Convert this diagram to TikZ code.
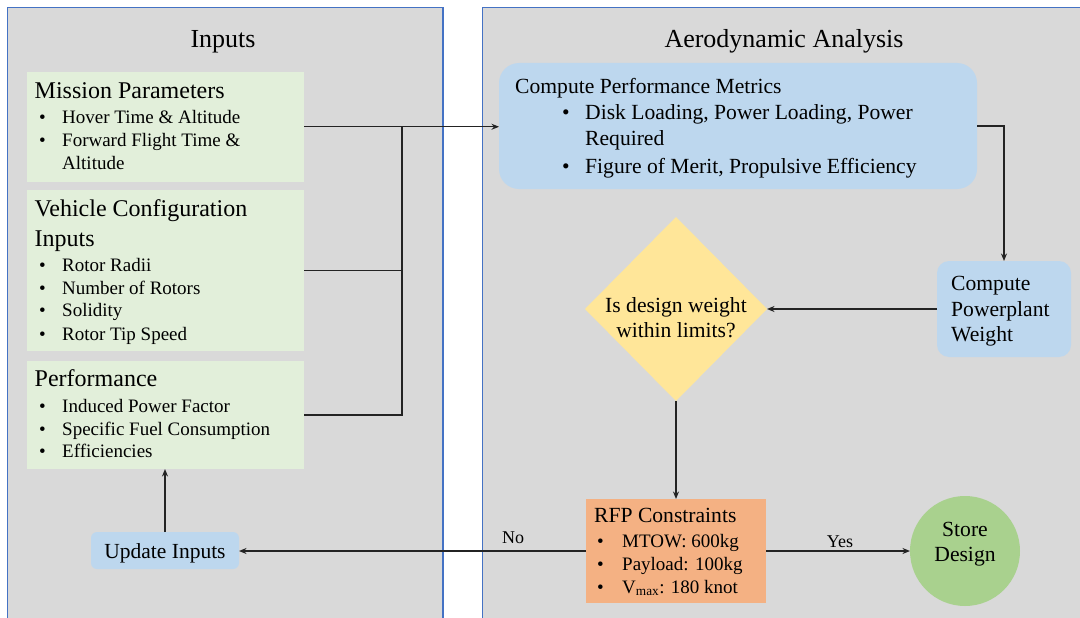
\documentclass[tikz,border=0pt]{standalone}
\usepackage{fontspec}
\setmainfont{Liberation Serif}
\usetikzlibrary{shapes.geometric,arrows.meta}
\definecolor{panelgray}{RGB}{217,217,217}
\definecolor{panelblue}{RGB}{68,114,196}
\definecolor{boxgreen}{RGB}{226,239,218}
\definecolor{boxblue}{RGB}{189,215,238}
\definecolor{boxyellow}{RGB}{255,230,153}
\definecolor{boxorange}{RGB}{244,177,131}
\definecolor{boxgreenc}{RGB}{169,209,142}
\definecolor{linecol}{RGB}{35,35,35}
\begin{document}
\begin{tikzpicture}[x=1pt,y=-1pt,
  panel/.style={fill=panelgray,draw=panelblue,line width=1.2pt},
  gbox/.style={fill=boxgreen,draw=none,inner sep=0pt,outer sep=0pt,anchor=north west},
  bbox/.style={fill=boxblue,draw=none,inner sep=0pt,outer sep=0pt},
  title/.style={anchor=base,inner sep=0pt,font=\fontsize{26}{30}\selectfont},
  hd/.style={anchor=base west,inner sep=0pt,font=\fontsize{24}{28}\selectfont},
  bs/.style={anchor=base west,inner sep=0pt,font=\fontsize{19}{22}\selectfont},
  bm/.style={anchor=base west,inner sep=0pt,font=\fontsize{21.6}{25}\selectfont},
  bc/.style={anchor=base,inner sep=0pt,font=\fontsize{21.6}{25}\selectfont},
  lab/.style={anchor=base,inner sep=0pt,font=\fontsize{18}{21}\selectfont},
  ln/.style={draw=linecol,line width=1.4pt},
  arr/.style={ln,-{Stealth[length=7.5pt,width=6pt]}}
]
\useasboundingbox (0,0) rectangle (1080,618);
\fill[white] (0,0) rectangle (1080,618);
\begin{scope}
\clip (0,0) rectangle (1080,618);
\draw[panel] (7.5,7.5) rectangle (443,625);
\draw[panel] (482.3,7.5) rectangle (1090,625);
\end{scope}

% titles
\node[title] (tin) at (223,48) {Inputs};
\node[title] (taa) at (784,48) {Aerodynamic Analysis};

% input boxes
\node[gbox,minimum width=277.5pt,minimum height=109.5pt] (mp) at (26.5,72) {};
\node[gbox,minimum width=277.5pt,minimum height=161.5pt] (vc) at (26.5,189.5) {};
\node[gbox,minimum width=277.5pt,minimum height=108pt] (pf) at (26.5,361) {};

\node[hd] (mph) at (34.5,99) {Mission Parameters};
\node[bs] (mpb1) at (39,124) {•};
\node[bs] (mpt1) at (62,124) {Hover Time \& Altitude};
\node[bs] (mpb2) at (39,146.7) {•};
\node[bs] (mpt2) at (62,146.7) {Forward Flight Time \&};
\node[bs] (mpt3) at (62,169.3) {Altitude};

\node[hd] (vch1) at (34.5,216) {Vehicle Configuration};
\node[hd] (vch2) at (34.5,246) {Inputs};
\node[bs] (vcb1) at (39,271.7) {•};
\node[bs] (vct1) at (62,271.7) {Rotor Radii};
\node[bs] (vcb2) at (39,294) {•};
\node[bs] (vct2) at (62,294) {Number of Rotors};
\node[bs] (vcb3) at (39,316.7) {•};
\node[bs] (vct3) at (62,316.7) {Solidity};
\node[bs] (vcb4) at (39,340) {•};
\node[bs] (vct4) at (62,340) {Rotor Tip Speed};

\node[hd] (pfh) at (34.5,386) {Performance};
\node[bs] (pfb1) at (39,412.7) {•};
\node[bs] (pft1) at (62,412.7) {Induced Power Factor};
\node[bs] (pfb2) at (39,435.3) {•};
\node[bs] (pft2) at (62,435.3) {Specific Fuel Consumption};
\node[bs] (pfb3) at (39,457.7) {•};
\node[bs] (pft3) at (62,457.7) {Efficiencies};

% update inputs
\node[bbox,rounded corners=6pt,minimum width=148pt,minimum height=37pt,
  text height=15pt,text depth=0pt,font=\fontsize{21.5}{25}\selectfont] (upd) at (165,550.5) {Update Inputs};

% compute performance metrics
\node[bbox,rounded corners=20pt,minimum width=478pt,minimum height=126pt] (cpm) at (738,126) {};
\node[bm] (cpmh) at (515,94) {Compute Performance Metrics};
\node[bm] (cpmb1) at (562,120) {•};
\node[bm] (cpmt1) at (585,120) {Disk Loading, Power Loading, Power};
\node[bm] (cpmt2) at (585,146) {Required};
\node[bm] (cpmb2) at (562,173) {•};
\node[bm] (cpmt3) at (585,173) {Figure of Merit, Propulsive Efficiency};

% compute powerplant weight
\node[bbox,rounded corners=12pt,minimum width=134pt,minimum height=96pt] (cpw) at (1004,309) {};
\node[bm] (cpwt1) at (951,290) {Compute};
\node[bm] (cpwt2) at (951,316) {Powerplant};
\node[bm] (cpwt3) at (951,341.7) {Weight};

% decision
\node[diamond,fill=boxyellow,draw=none,inner sep=0pt,outer sep=0pt,
  minimum width=182pt,minimum height=184pt] (dec) at (676,309) {};
\node[bc] (dect1) at (676,312.7) {Is design weight};
\node[bc] (dect2) at (676,337.7) {within limits?};

% RFP constraints
\node[fill=boxorange,draw=none,inner sep=0pt,outer sep=0pt,
  minimum width=180pt,minimum height=104pt] (rfp) at (676,551) {};
\node[bm] (rfph) at (594,522) {RFP Constraints};
\node[bs] (rfpb1) at (597,547.7) {•};
\node[bs] (rfpt1) at (622,547.7) {MTOW: 600kg};
\node[bs] (rfpb2) at (597,570.3) {•};
\node[bs] (rfpt2) at (622,570.3) {Payload: 100kg};
\node[bs] (rfpb3) at (597,593.3) {•};
\node[bs] (rfpt3) at (622,593.3) {V\textsubscript{max}: 180 knot};

% store design
\node[circle,fill=boxgreenc,draw=none,inner sep=0pt,outer sep=0pt,minimum size=110pt] (st) at (965,551) {};
\node[bc] (stt1) at (965,536) {Store};
\node[bc] (stt2) at (965,561.5) {Design};

% connectors
\coordinate (bus) at (402,126.5);
\draw[arr] (mp.east) -- (mp.east -| cpm.west);
\draw[ln] (vc.east) -| (bus);
\draw[ln] (pf.east) -| (bus);
\draw[arr] (cpm.east) -| (cpw.north);
\draw[arr] (cpw.west) -- (dec.east);
\draw[arr] (dec.south) -- (rfp.north);
\draw[arr] (rfp.east) -- (st.west);
\draw[arr] (rfp.west) -- (rfp.west -| upd.east);
\draw[arr] (upd.north) -- (upd.north |- pf.south);
\node[lab] (yes) at (840,547) {Yes};
\node[lab] (no) at (513,543) {No};
\end{tikzpicture}
\end{document}
